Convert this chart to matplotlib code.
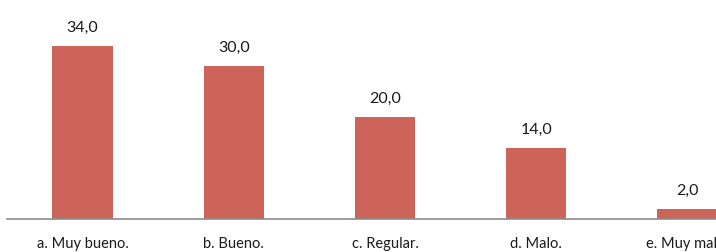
import matplotlib
matplotlib.use("Agg")
import matplotlib.pyplot as plt

categories = ["a. Muy bueno.", "b. Bueno.", "c. Regular.", "d. Malo.", "e. Muy malo."]
values = [34.0, 30.0, 20.0, 14.0, 2.0]

plt.rcParams['font.family'] = ['Lato', 'DejaVu Sans']

fig = plt.figure(figsize=(7.16, 2.52), dpi=100)
# axes runs past the right edge, like the cropped original
ax = fig.add_axes([7 / 716, 33 / 252, 756 / 716, 204 / 252])

x = range(len(categories))
bars = ax.bar(x, values, width=0.4, color='#CD6459')

for b, v in zip(bars, values):
    ax.annotate(f"{v:.1f}".replace('.', ','), (b.get_x() + b.get_width() / 2, v),
                xytext=(0, 8), textcoords='offset points', ha='center', va='bottom',
                fontsize=11.5, color='#1a1a1a')

ax.set_xlim(-0.5, 4.5)
ax.set_ylim(0, 40)
ax.set_xticks(list(x))
ax.set_xticklabels(categories, fontsize=10.5, color='#1a1a1a')
ax.tick_params(axis='x', length=0, pad=13)
ax.set_yticks([])
for s in ['top', 'right', 'left']:
    ax.spines[s].set_visible(False)
ax.spines['bottom'].set_color('#8c8c8c')
ax.spines['bottom'].set_linewidth(1.2)

fig.savefig('out.png', dpi=100)
